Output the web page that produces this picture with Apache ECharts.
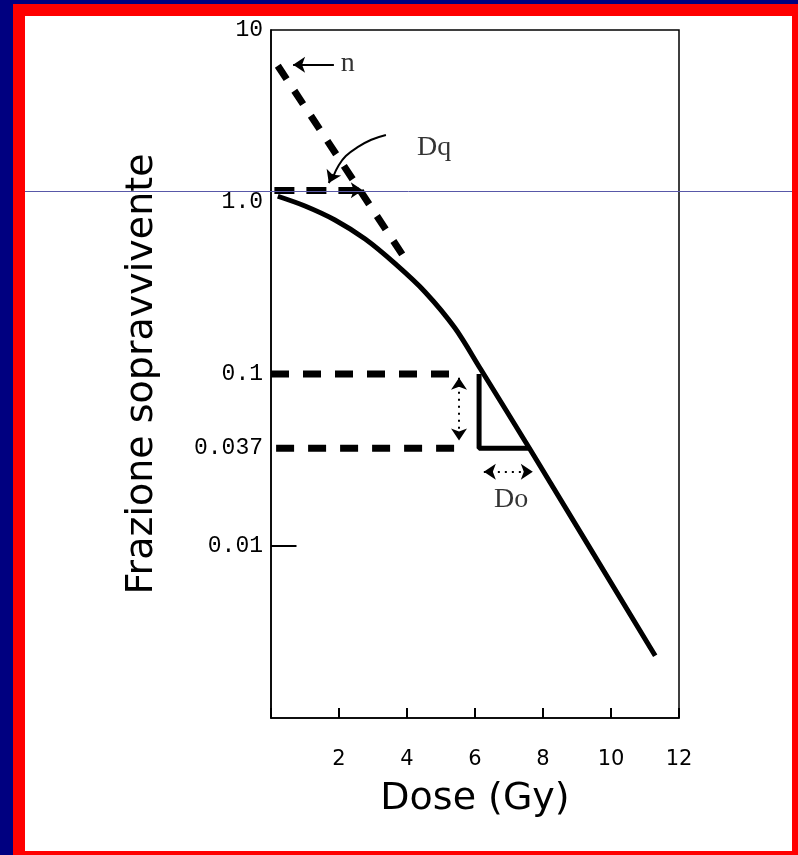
<!DOCTYPE html>
<html>
<head>
<meta charset="utf-8">
<title>Frazione sopravvivente</title>
<script src="https://cdn.jsdelivr.net/npm/echarts@6/dist/echarts.min.js"></script>
<style>
html, body { margin: 0; padding: 0; background: #000080; }
#main { width: 798px; height: 855px; }
</style>
</head>
<body>
<div id="main"></div>
<script>
// tick labels
var doseTicks = [0, 2, 4, 6, 8, 10, 12];
var survTicks = [10, 1, 0.1, 0.037, 0.01];
var survTickText = ['10', '1.0', '0.1', '0.037', '0.01'];

// survival curve (solid)
var curveDose = [0.2, 1.0, 1.88, 2.77, 3.65, 4.53, 5.41, 6.15, 7.6, 11.3];
var curveSurv = [1.08, 0.948, 0.786, 0.609, 0.438, 0.30, 0.185, 0.108, 0.037, 0.0023];

// extrapolation of the straight part back to n
var extrapDose = [0.2, 4.0];
var extrapSurv = [6.2, 0.45];

// Dq dashed line
var dqDose = [0.1, 2.7];
var dqSurv = [1.17, 1.17];

// dashed box for D0
var boxTopDose = [0, 5.45];
var boxTopSurv = [0.1, 0.1];
var boxBotDose = [0.15, 5.5];
var boxBotSurv = [0.037, 0.037];

// solid triangle under the curve
var triDose = [6.12, 6.12, 7.6];
var triSurv = [0.1, 0.037, 0.037];

// arrows
var nArrowDose = [1.85, 0.65];
var nArrowSurv = [6.27, 6.27];
var dqCurveDose = [3.38, 2.95, 2.56, 2.2, 1.98, 1.84];
var dqCurveSurv = [2.45, 2.3, 2.09, 1.85, 1.62, 1.42];
var dqHeadDose = [1.82, 1.7];
var dqHeadSurv = [1.45, 1.29];
var vArrowDose = [5.53, 5.53];
var vArrowSurv = [0.095, 0.041];
var doArrowDose = [6.26, 7.7];
var doArrowSurv = [0.027, 0.027];

// annotation text
var noteText = ['n', 'Dq', 'Do'];
var noteDose = [2.26, 4.8, 7.06];
var noteSurv = [6.4, 2.06, 0.0185];

function pairs(xs, ys) {
    return xs.map(function (x, i) { return [x, ys[i]]; });
}

function lineSeries(name, xs, ys, width, dash) {
    return {
        name: name,
        type: 'line',
        data: pairs(xs, ys),
        symbol: 'none',
        silent: true,
        lineStyle: { color: '#000', width: width, type: dash || 'solid', cap: 'butt' },
        z: 3
    };
}

function arrow(xs, ys, startSym, endSym, style) {
    return [
        { coord: [xs[0], ys[0]], symbol: startSym, lineStyle: style },
        { coord: [xs[1], ys[1]], symbol: endSym }
    ];
}

var chartDom = document.getElementById('main');
var myChart = echarts.init(chartDom, null, { renderer: 'canvas' });

var thin = { color: '#000', width: 2, type: 'solid' };
var dotted = { color: '#000', width: 2, type: [2, 5] };

var option = {
    backgroundColor: '#000080',
    animation: false,
    graphic: [
        { type: 'rect', z: -10, shape: { x: 13, y: 4, width: 785, height: 851 }, style: { fill: '#ff0000' } },
        { type: 'rect', z: -9, shape: { x: 25, y: 16, width: 767, height: 835 }, style: { fill: '#ffffff' } },
        { type: 'line', z: 100, shape: { x1: 25, y1: 191.5, x2: 792, y2: 191.5 }, style: { stroke: '#5858a8', lineWidth: 1 } }
    ],
    grid: {
        left: 271,
        top: 30,
        width: 408,
        height: 688,
        show: true,
        borderColor: '#000',
        borderWidth: 1.5,
        backgroundColor: 'transparent'
    },
    xAxis: {
        type: 'value',
        min: 0,
        max: 12,
        interval: 2,
        name: 'Dose (Gy)',
        nameLocation: 'middle',
        nameGap: 62,
        nameTextStyle: { fontFamily: 'DejaVu Sans', fontSize: 38, color: '#000' },
        axisLine: { show: true, lineStyle: { color: '#000', width: 1.5 } },
        axisTick: { show: true, inside: true, length: 10, lineStyle: { color: '#000', width: 2 } },
        axisLabel: {
            margin: 31,
            fontFamily: 'DejaVu Sans',
            fontSize: 21,
            color: '#000',
            formatter: function (v) { return v === 0 ? '' : String(v); }
        },
        splitLine: { show: false }
    },
    yAxis: {
        type: 'log',
        logBase: 10,
        min: 0.001,
        max: 10,
        name: 'Frazione sopravvivente',
        nameLocation: 'middle',
        nameGap: 110,
        nameTextStyle: { fontFamily: 'DejaVu Sans', fontSize: 38, color: '#000' },
        axisLine: { show: true, lineStyle: { color: '#000', width: 1.5 } },
        axisTick: { show: false },
        axisLabel: {
            customValues: survTicks,
            margin: 8,
            fontFamily: 'Liberation Mono',
            fontSize: 23,
            color: '#000',
            formatter: function (v) {
                for (var i = 0; i < survTicks.length; i++) {
                    if (Math.abs(v - survTicks[i]) < survTicks[i] * 1e-6) return survTickText[i];
                }
                return '';
            }
        },
        splitLine: { show: false }
    },
    series: [
        Object.assign(lineSeries('curve', curveDose, curveSurv, 5), { smooth: 0.3 }),
        lineSeries('extrap', extrapDose, extrapSurv, 7, [16, 14]),
        lineSeries('boxTop', boxTopDose, boxTopSurv, 7, [18, 14]),
        lineSeries('boxBot', boxBotDose, boxBotSurv, 7, [18, 14]),
        lineSeries('triangle', triDose, triSurv, 5),
        Object.assign(lineSeries('dqCurve', dqCurveDose, dqCurveSurv, 2), { smooth: 0.4 }),
        {
            name: 'arrows',
            type: 'line',
            data: [],
            silent: true,
            markLine: {
                silent: true,
                animation: false,
                symbolSize: 12,
                label: { show: false },
                emphasis: { disabled: true },
                data: [
                    arrow(dqDose, dqSurv, 'none', 'arrow', { color: '#000', width: 7, type: [20, 12] }),
                    arrow(nArrowDose, nArrowSurv, 'none', 'arrow', thin),
                    arrow(dqHeadDose, dqHeadSurv, 'none', 'arrow', thin),
                    arrow(vArrowDose, vArrowSurv, 'arrow', 'arrow', dotted),
                    arrow(doArrowDose, doArrowSurv, 'arrow', 'arrow', dotted),
                    arrow([0, 0.75], [0.01, 0.01], 'none', 'none', thin)
                ]
            }
        },
        {
            name: 'notes',
            type: 'scatter',
            symbolSize: 0,
            silent: true,
            data: noteText.map(function (t, i) { return { name: t, value: [noteDose[i], noteSurv[i]] }; }),
            label: {
                show: true,
                position: 'inside',
                formatter: '{b}',
                fontFamily: 'Liberation Serif',
                fontSize: 28,
                color: '#000'
            }
        }
    ]
};

myChart.setOption(option);
</script>
</body>
</html>
